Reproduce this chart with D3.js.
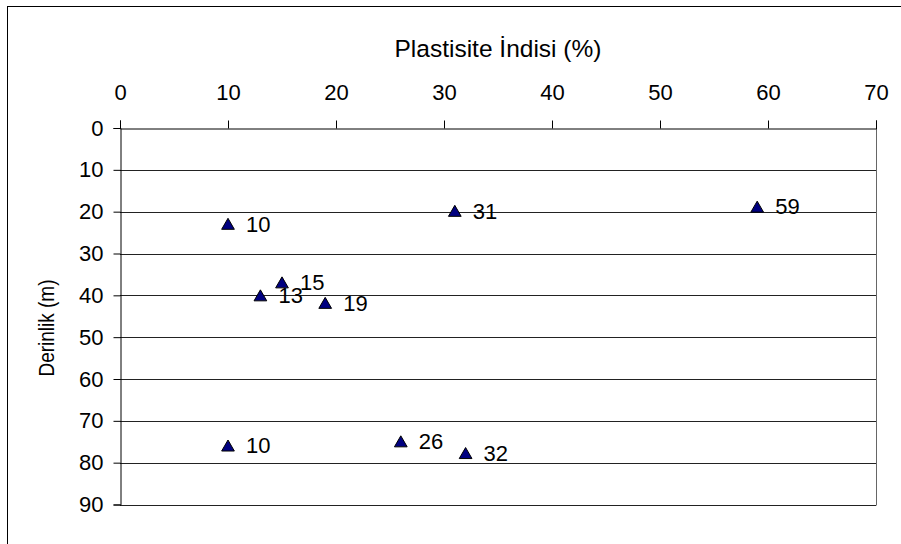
<!DOCTYPE html>
<html>
<head>
<meta charset="utf-8">
<script src="https://cdn.jsdelivr.net/npm/d3@7"></script>
<style>
  body { margin: 0; background: #fff; }
  text { font-family: "Liberation Sans", Arial, sans-serif; fill: #000; }
</style>
</head>
<body>
<div id="chart"></div>
<script>
// Plastisite indisi - derinlik
const plastisite = [10, 31, 59, 15, 13, 19, 10, 26, 32];
const derinlik = [23.1, 20, 19, 37.1, 40.2, 42, 76.1, 75.1, 77.9];
const xTicks = [0, 10, 20, 30, 40, 50, 60, 70];
const yTicks = [0, 10, 20, 30, 40, 50, 60, 70, 80, 90];

const data = plastisite.map((p, i) => ({ x: p, y: derinlik[i] }));

const width = 901;
const height = 544;
const margin = { top: 128, right: 25, bottom: 40, left: 120 };

const svg = d3.select("#chart")
    .append("svg")
    .attr("width", width)
    .attr("height", height);

// outer frame
svg.append("rect")
    .attr("x", 7.5)
    .attr("y", 6.5)
    .attr("width", 1000)
    .attr("height", 1000)
    .attr("fill", "none")
    .attr("stroke", "#000")
    .attr("stroke-width", 1);

const x = d3.scaleLinear()
    .domain([0, 70])
    .range([margin.left, 876]);

const y = d3.scaleLinear()
    .domain([0, 90])
    .range([margin.top, 504.5]);

// grid lines
svg.append("g")
    .selectAll("line")
    .data(yTicks.slice(1))
    .enter()
    .append("line")
    .attr("x1", x(0))
    .attr("x2", x(70))
    .attr("y1", d => Math.round(y(d)) + 0.5)
    .attr("y2", d => Math.round(y(d)) + 0.5)
    .attr("stroke", "#222")
    .attr("stroke-width", 1);

// right border of plot area
svg.append("line")
    .attr("x1", Math.round(x(70)) + 0.5)
    .attr("x2", Math.round(x(70)) + 0.5)
    .attr("y1", y(0))
    .attr("y2", Math.round(y(90)) + 0.5)
    .attr("stroke", "#666");

// top axis
const xAxis = svg.append("g")
    .attr("transform", `translate(0,${Math.round(y(0)) + 0.5})`)
    .call(d3.axisTop(x).tickValues(xTicks).tickSize(8).tickPadding(21));
xAxis.select(".domain").attr("stroke", "#000");
xAxis.selectAll("text").style("font-size", "22px").attr("fill", "#000");

// left axis
const yAxis = svg.append("g")
    .attr("transform", `translate(${Math.round(x(0)) + 0.5},0)`)
    .call(d3.axisLeft(y).tickValues(yTicks).tickSize(7).tickPadding(10));
yAxis.select(".domain").attr("stroke", "#000");
yAxis.selectAll("text").style("font-size", "22px").attr("fill", "#000");

// axis titles
svg.append("text")
    .attr("x", (x(0) + x(70)) / 2)
    .attr("y", 57)
    .attr("text-anchor", "middle")
    .style("font-size", "24.5px")
    .text("Plastisite İndisi (%)");

svg.append("text")
    .attr("transform", "translate(54,328) rotate(-90)")
    .attr("text-anchor", "middle")
    .attr("textLength", 97)
    .attr("lengthAdjust", "spacingAndGlyphs")
    .style("font-size", "21.5px")
    .text("Derinlik (m)");

// markers
const tri = d3.symbol().type(d3.symbolTriangle).size(70);

svg.selectAll(".pt")
    .data(data)
    .enter()
    .append("path")
    .attr("class", "pt")
    .attr("d", tri)
    .attr("transform", d => `translate(${x(d.x)},${y(d.y) + 1})`)
    .attr("fill", "#000080")
    .attr("stroke", "#000")
    .attr("stroke-width", 1);

// data labels
svg.selectAll(".lbl")
    .data(data)
    .enter()
    .append("text")
    .attr("class", "lbl")
    .attr("x", d => x(d.x) + 18)
    .attr("y", d => y(d.y) + 7)
    .style("font-size", "22px")
    .text(d => d.x);
</script>
</body>
</html>
